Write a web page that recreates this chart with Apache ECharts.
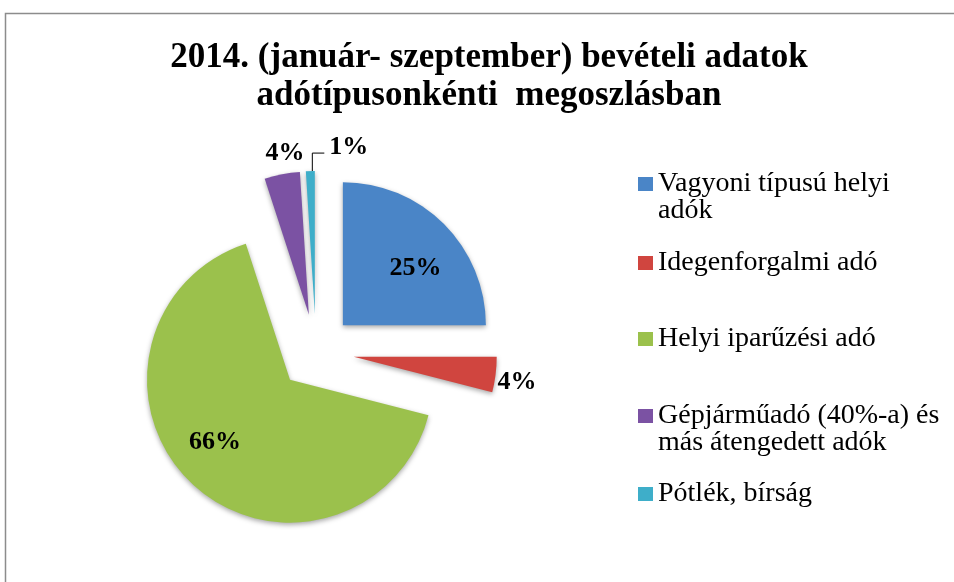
<!DOCTYPE html>
<html>
<head>
<meta charset="utf-8">
<script src="https://cdn.jsdelivr.net/npm/echarts@6/dist/echarts.min.js"></script>
<style>
  html, body { margin: 0; padding: 0; background: #fff; }
  #chart { width: 954px; height: 582px; }
</style>
</head>
<body>
<div id="chart"></div>
<script>
// adatok
var categories = [
  'Vagyoni típusú helyi\nadók',
  'Idegenforgalmi adó',
  'Helyi iparűzési adó',
  'Gépjárműadó (40%-a) és\nmás átengedett adók',
  'Pótlék, bírság'
]
var shares = [25, 4, 66, 4, 1]

var colors = ['#4a85c7', '#d0453f', '#9bc14c', '#7b52a3', '#3eaec9']
var labelPos = ['inside', 'outside', 'inside', 'outside', 'outside']
var legendTops = [143, 249, 325, 375, 480]

var serif = '"Liberation Serif", "DejaVu Serif", serif'

var myChart = echarts.init(document.getElementById('chart'))

var pieData = categories.map(function (name, i) {
  return {
    name: name,
    value: shares[i],
    selected: true,
    itemStyle: { color: colors[i] },
    label: { position: labelPos[i] },
    labelLine: {
      show: labelPos[i] === 'outside',
      length: 16,
      length2: 12,
      lineStyle: { opacity: i === 4 ? 1 : 0 }
    }
  }
})

// ket soros legenda: ures elso sor, hogy az ikon az elso sorhoz igazodjon
var legends = categories.map(function (name, i) {
  var twoLines = name.indexOf('\n') >= 0
  return {
    orient: 'vertical',
    left: 638,
    top: legendTops[i],
    padding: 0,
    itemWidth: 15,
    itemHeight: 14,
    icon: 'rect',
    selectedMode: false,
    data: [name],
    formatter: function (n) { return twoLines ? '\n' + n : n },
    textStyle: {
      fontFamily: serif,
      fontSize: 28,
      lineHeight: 27,
      color: '#000'
    }
  }
})

// cimkek finomhangolasa a szelet szelehez kepest
function placeLabel(params) {
  var i = params.dataIndex
  var lr = params.labelRect
  var pts = params.labelLinePoints
  if (i === 0) return { dx: 20, dy: -4 }
  if (i === 2) return { dx: -24, dy: 8 }
  if (!pts) return {}
  var p0 = pts[0]
  var mx = lr.x + lr.width / 2
  var my = lr.y + lr.height / 2
  if (i === 1) return { dx: p0[0] + 2 - lr.x, dy: p0[1] + 8 - my }
  if (i === 3) return { dx: p0[0] + 3 - mx, dy: p0[1] - 21 - my }
  var p1 = [p0[0] + 2, p0[1] - 18]
  var start = [p0[0] + 2, p0[1]]
  var p2 = [p1[0] + 12, p1[1]]
  return { dx: p2[0] + 5 - lr.x, dy: p1[1] - 6 - my, labelLinePoints: [start, p1, p2] }
}

myChart.setOption({
  animation: false,
  backgroundColor: '#fff',
  title: {
    text: '2014. (január- szeptember) bevételi adatok\nadótípusonkénti  megoszlásban',
    left: 484,
    top: 34,
    textAlign: 'center',
    textStyle: {
      fontFamily: serif,
      fontWeight: 'bold',
      fontSize: 35,
      lineHeight: 38,
      color: '#000'
    }
  },
  graphic: [{
    type: 'rect',
    shape: { x: 5.5, y: 13.5, width: 1000, height: 700 },
    style: { fill: 'none', stroke: '#8c8c8c', lineWidth: 1.5 },
    silent: true
  }],
  legend: legends,
  series: [{
    type: 'pie',
    center: [316, 352],
    radius: 143,
    startAngle: 90,
    clockwise: true,
    selectedMode: 'multiple',
    selectedOffset: 38,
    avoidLabelOverlap: false,
    emphasis: { disabled: true },
    itemStyle: {
      shadowBlur: 5,
      shadowColor: 'rgba(0,0,0,0.35)',
      shadowOffsetY: 2
    },
    label: {
      formatter: '{c}%',
      fontFamily: serif,
      fontWeight: 'bold',
      fontSize: 26,
      color: '#000'
    },
    labelLine: {
      lineStyle: { color: '#000', width: 1 },
      smooth: false
    },
    labelLayout: placeLabel,
    data: pieData
  }]
})
</script>
</body>
</html>
